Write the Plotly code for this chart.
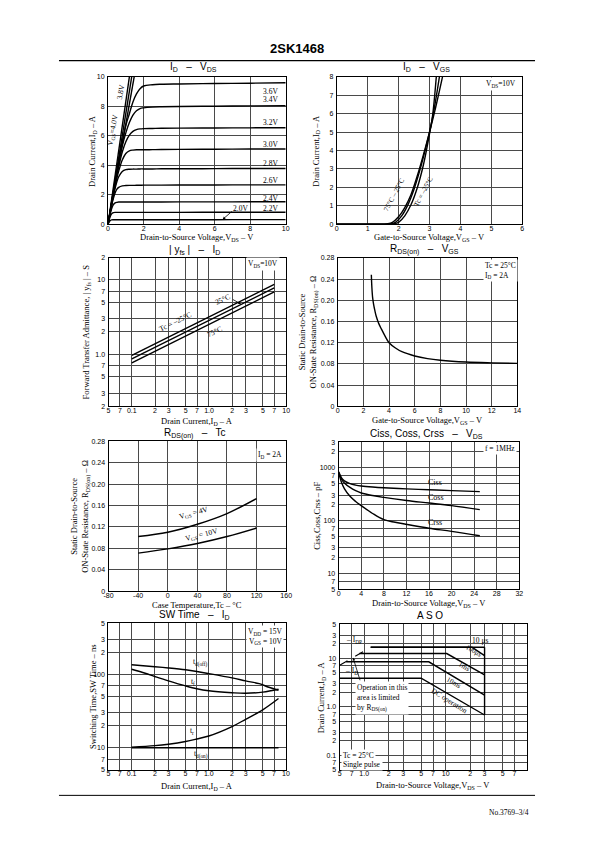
import numpy as np
import plotly.graph_objects as go

W, H = 595, 842

# ---------------- data ----------------
# Panel 1 : I_D - V_DS
p1_vds = [0, 0.1, 0.2, 0.3, 0.4, 0.5, 0.6, 0.8, 1.0, 1.2, 1.4, 1.6, 1.8, 2.0, 2.5, 3, 4, 6, 8, 10]
p1_id_36 = [0, 0.74, 1.48, 2.2, 2.92, 3.62, 4.3, 5.6, 6.7, 7.5, 8.3, 8.85, 9.2, 9.38, 9.47, 9.5, 9.52, 9.55, 9.57, 9.6]
p1_id_34 = [0, 0.73, 1.45, 2.15, 2.85, 3.5, 4.15, 5.3, 6.2, 6.9, 7.4, 7.7, 7.85, 7.9, 7.95, 7.97, 7.99, 8.01, 8.03, 8.05]
p1_id_32 = [0, 0.72, 1.42, 2.1, 2.75, 3.35, 3.9, 4.9, 5.6, 6.05, 6.3, 6.42, 6.47, 6.49, 6.5, 6.51, 6.52, 6.53, 6.54, 6.55]
p1_id_30 = [0, 0.7, 1.38, 2.02, 2.6, 3.15, 3.6, 4.35, 4.8, 4.98, 5.03, 5.05, 5.05, 5.05, 5.06, 5.07, 5.08, 5.09, 5.1, 5.1]
p1_id_28 = [0, 0.68, 1.33, 1.92, 2.45, 2.9, 3.22, 3.58, 3.7, 3.73, 3.74, 3.74, 3.75, 3.75, 3.75, 3.76, 3.76, 3.77, 3.78, 3.78]
p1_id_26 = [0, 0.65, 1.25, 1.75, 2.13, 2.38, 2.5, 2.6, 2.62, 2.63, 2.63, 2.64, 2.64, 2.65, 2.65, 2.65, 2.66, 2.66, 2.67, 2.67]
p1_id_24 = [0, 0.58, 1.05, 1.32, 1.44, 1.48, 1.5, 1.5, 1.5, 1.5, 1.5, 1.5, 1.5, 1.5, 1.5, 1.5, 1.51, 1.51, 1.52, 1.52]
p1_id_22 = [0, 0.45, 0.7, 0.78, 0.8, 0.8, 0.8, 0.8, 0.8, 0.8, 0.8, 0.8, 0.8, 0.8, 0.8, 0.8, 0.8, 0.81, 0.81, 0.81]
p1_id_20 = [0, 0.22, 0.29, 0.3, 0.3, 0.3, 0.3, 0.3, 0.3, 0.3, 0.3, 0.3, 0.3, 0.3, 0.3, 0.3, 0.3, 0.3, 0.31, 0.31]
p1_steep_vds_end = [1.2, 1.33, 1.47]
p1_steep_id = [0, 10]
p1_curve_labels = ['3.6V', '3.4V', '3.2V', '3.0V', '2.8V', '2.6V', '2.4V', '2.2V']
p1_label_id = [9.0, 8.45, 6.9, 5.4, 4.1, 2.95, 1.75, 1.05]

# Panel 2 : I_D - V_GS
p2_vgs_75 = [0, 1.5, 1.65, 1.8, 2.0, 2.2, 2.4, 2.6, 2.8, 3.0, 3.2, 3.42]
p2_id_75 = [0, 0.0, 0.02, 0.1, 0.4, 0.9, 1.6, 2.6, 3.75, 5.0, 6.35, 8.0]
p2_vgs_25 = [0, 1.6, 1.75, 1.9, 2.1, 2.3, 2.5, 2.7, 2.9, 3.0, 3.15, 3.32]
p2_id_25 = [0, 0.0, 0.02, 0.1, 0.45, 1.05, 1.9, 3.0, 4.3, 5.0, 6.25, 8.0]
p2_vgs_m25 = [0, 1.7, 1.85, 2.0, 2.2, 2.4, 2.6, 2.8, 3.0, 3.1, 3.22]
p2_id_m25 = [0, 0.0, 0.02, 0.1, 0.45, 1.05, 1.95, 3.2, 4.9, 5.9, 8.0]

# Panel 3 : |yfs| - I_D
p3_id = [0.1, 7.0]
p3_yfs_m25 = [0.97, 8.7]
p3_yfs_25 = [0.87, 7.8]
p3_yfs_75 = [0.77, 6.9]

# Panel 4 : R_DS(on) - V_GS
p4_vgs = [2.62, 2.66, 2.72, 2.8, 2.9, 3.0, 3.2, 3.4, 3.7, 4.0, 4.5, 5, 6, 7, 8, 10, 12, 14]
p4_r = [0.248, 0.225, 0.205, 0.192, 0.18, 0.17, 0.156, 0.146, 0.132, 0.12, 0.11, 0.103,
        0.095, 0.09, 0.087, 0.0836, 0.082, 0.081]

# Panel 5 : R_DS(on) - Tc
p5_tc = [-40, 0, 40, 80, 120]
p5_r_4v = [0.102, 0.110, 0.125, 0.145, 0.173]
p5_r_10v = [0.071, 0.079, 0.089, 0.102, 0.118]

# Panel 6 : Ciss, Coss, Crss - V_DS
p6_vds = [0, 0.5, 1, 2, 3, 4, 6, 8, 12, 16, 20, 25]
p6_ciss = [830, 640, 560, 495, 465, 448, 428, 414, 395, 380, 366, 350]
p6_coss = [810, 600, 510, 420, 365, 330, 295, 272, 238, 213, 190, 160]
p6_vds_crss = [0, 0.5, 1, 2, 3, 4, 6, 8, 10, 12, 16, 20, 25]
p6_crss = [790, 520, 400, 285, 228, 190, 135, 103, 92, 84, 71, 62, 51]

# Panel 7 : SW time - I_D
p7_id_off = [0.1, 0.2, 0.3, 0.5, 0.7, 1.0, 2.0, 3.0, 4.5, 6.0, 8.0]
p7_tdoff = [136, 128, 123, 116, 110, 103, 90, 82, 75, 67, 61]
p7_id_tf = [0.1, 0.15, 0.2, 0.3, 0.5, 0.7, 1.0, 2.0, 3.0, 5.0, 8.0]
p7_tf = [118, 104, 94, 82, 70, 64, 60, 56.5, 55.5, 57.5, 63]
p7_id_tr = [0.1, 0.2, 0.3, 0.5, 0.7, 1.0, 2.0, 3.0, 5.0, 8.0]
p7_tr = [10.2, 10.7, 11.2, 12.2, 13.2, 14.5, 19.5, 24.5, 33, 47]
p7_id_on = [0.1, 8.0]
p7_tdon = [10, 10]

# Panel 8 : ASO
p8_vds_10us = [1.2, 30]
p8_id_10us = [17, 17]
p8_vds_100us = [1.2, 21, 30]
p8_id_100us = [17, 17, 11.4]
p8_vds_1ms = [0.87, 10.3, 30]
p8_id_1ms = [12.6, 12.6, 4.55]
p8_vds_10ms = [0.6, 6.2, 30]
p8_id_10ms = [8.5, 8.5, 1.75]
p8_vds_dc = [0.5, 5, 30]
p8_id_dc = [3.9, 3.9, 0.68]
p8_vds_vdss = [30, 30]
p8_id_vdss = [17, 0.68]
p8_vds_rds = [0.5, 1.2]
p8_id_rds = [7.2, 17]

# tick values / labels
lin_x1 = [0, 2, 4, 6, 8, 10]
lin_y1 = [0, 2, 4, 6, 8, 10]
lin_x2 = [0, 1, 2, 3, 4, 5, 6]
lin_y2 = [0, 1, 2, 3, 4, 5, 6, 7, 8]
log_x_a = [0.05, 0.07, 0.1, 0.2, 0.3, 0.5, 0.7, 1, 2, 3, 5, 7, 10]
log_x_a_txt = ['5', '7', '0.1', '2', '3', '5', '7', '1.0', '2', '3', '5', '7', '10']
p3_yv = [0.2, 0.3, 0.5, 0.7, 1, 2, 3, 5, 7, 10, 20]
p3_yt = ['2', '3', '5', '7', '1.0', '2', '3', '5', '7', '10', '2']
p4_xv = [0, 2, 4, 6, 8, 10, 12, 14]
r_yv = [0, 0.04, 0.08, 0.12, 0.16, 0.20, 0.24, 0.28]
r_yt = ['0', '0.04', '0.08', '0.12', '0.16', '0.20', '0.24', '0.28']
p5_xv = [-80, -40, 0, 40, 80, 120, 160]
p6_xv = [0, 4, 8, 12, 16, 20, 24, 28, 32]
p6_yv = [5, 7, 10, 20, 30, 50, 70, 100, 200, 300, 500, 700, 1000, 2000, 3000]
p6_yt = ['5', '7', '10', '2', '3', '5', '7', '100', '2', '3', '5', '7', '1000', '2', '3']
p7_yv = [5, 7, 10, 20, 30, 50, 70, 100, 200, 300, 500]
p7_yt = ['5', '7', '10', '2', '3', '5', '7', '100', '2', '3', '5']
p8_xv = [0.5, 0.7, 1, 2, 3, 5, 7, 10, 20, 30, 50, 70, 100]
p8_xt = ['5', '7', '1.0', '2', '3', '5', '7', '10', '2', '3', '5', '7', '']
p8_yv = [0.05, 0.07, 0.1, 0.2, 0.3, 0.5, 0.7, 1, 2, 3, 5, 7, 10, 20, 30, 50]
p8_yt = ['5', '7', '0.1', '2', '3', '5', '7', '1.0', '2', '3', '5', '7', '10', '2', '3', '5']

# ---------------- style ----------------
SERIF = 'Liberation Serif'
SANS = 'Liberation Sans'
GRID = '#4a4a4a'
TICKFONT = dict(family=SANS, size=7, color='black')

fig = go.Figure()
axis_types = {}


def sfx(i):
    return '' if i == 1 else str(i)


def setup(i, box, xtype, ytype, xr, yr, xtv, xtt, ytv, ytt):
    x0, x1, y0, y1 = box
    axis_types[i] = (xtype, ytype)
    s = sfx(i)
    common = dict(showgrid=True, gridcolor=GRID, gridwidth=0.6, showline=True,
                  linecolor='black', linewidth=1.1, mirror=True, zeroline=False,
                  ticks='', ticklen=0, tickfont=TICKFONT, fixedrange=True, tickmode='array')
    if xtype == 'log':
        xr = [np.log10(xr[0]), np.log10(xr[1])]
    if ytype == 'log':
        yr = [np.log10(yr[0]), np.log10(yr[1])]
    fig.update_layout(**{
        'xaxis' + s: dict(domain=[x0 / W, x1 / W], anchor='y' + s, type=xtype, range=xr,
                          tickvals=xtv, ticktext=xtt, ticklabelstandoff=-3, **common),
        'yaxis' + s: dict(domain=[1 - y1 / H, 1 - y0 / H], anchor='x' + s, type=ytype, range=yr,
                          tickvals=ytv, ticktext=ytt, ticklabelstandoff=1, **common),
    })


def line(i, x, y, width=1.4, dash=None, shape='linear'):
    s = sfx(i)
    fig.add_trace(go.Scatter(x=x, y=y, mode='lines',
                             line=dict(color='black', width=width, dash=dash, shape=shape),
                             xaxis='x' + s, yaxis='y' + s, showlegend=False, hoverinfo='skip'))


def text(i, x, y, t, size=8, angle=0, xanchor='center', yanchor='middle', bg=None,
         family=SERIF, align='center', **kw):
    xt, yt = axis_types[i]
    s = sfx(i)
    if xt == 'log':
        x = float(np.log10(x))
        if 'ax' in kw:
            kw['ax'] = float(np.log10(kw['ax']))
    if yt == 'log':
        y = float(np.log10(y))
        if 'ay' in kw:
            kw['ay'] = float(np.log10(kw['ay']))
    d = dict(x=x, y=y, xref='x' + s, yref='y' + s, text=t, showarrow=False, textangle=angle,
             xanchor=xanchor, yanchor=yanchor, align=align,
             font=dict(family=family, size=size, color='black'))
    if bg:
        d['bgcolor'] = bg
    if 'ax' in kw:
        d.update(showarrow=True, axref='x' + s, ayref='y' + s, arrowhead=2, arrowsize=0.7,
                 arrowwidth=0.8, arrowcolor='black')
    d.update(kw)
    fig.add_annotation(**d)


def ptext(xp, yp, t, size=8, angle=0, family=SERIF, xanchor='center', yanchor='middle'):
    fig.add_annotation(x=xp / W, y=1 - yp / H, xref='paper', yref='paper', text=t,
                       showarrow=False, textangle=angle, xanchor=xanchor, yanchor=yanchor,
                       font=dict(family=family, size=size, color='black'))


def hline(x0, x1, yp, w=1.0):
    fig.add_shape(type='line', xref='paper', yref='paper', x0=x0 / W, x1=x1 / W,
                  y0=1 - yp / H, y1=1 - yp / H, line=dict(color='black', width=w))


# panel boxes (px): x0, x1, y0(top), y1(bottom)
B1 = (105, 286, 73.5, 222)
B2 = (338, 527, 73.5, 222)
B3 = (105.5, 286.5, 255.7, 405.7)
B4 = (339, 522, 256, 405.7)
B5 = (105.5, 286.5, 441, 592)
B6 = (340, 524, 442, 590)
B7 = (105.3, 286.3, 624.5, 772.3)
B8 = (341, 532, 625.7, 772.4)

setup(1, B1, 'linear', 'linear', [0, 10], [0, 10], lin_x1, [str(v) for v in lin_x1], lin_y1, [str(v) for v in lin_y1])
setup(2, B2, 'linear', 'linear', [0, 6], [0, 8], lin_x2, [str(v) for v in lin_x2], lin_y2, [str(v) for v in lin_y2])
setup(3, B3, 'log', 'log', [0.05, 10], [0.2, 20], log_x_a, log_x_a_txt, p3_yv, p3_yt)
setup(4, B4, 'linear', 'linear', [0, 14], [0, 0.28], p4_xv, [str(v) for v in p4_xv], r_yv, r_yt)
setup(5, B5, 'linear', 'linear', [-80, 160], [0, 0.28], p5_xv, [str(v) for v in p5_xv], r_yv, r_yt)
setup(6, B6, 'linear', 'log', [0, 32], [5, 3000], p6_xv, [str(v) for v in p6_xv], p6_yv, p6_yt)
setup(7, B7, 'log', 'log', [0.05, 10], [5, 500], log_x_a, log_x_a_txt, p7_yv, p7_yt)
setup(8, B8, 'log', 'log', [0.5, 100], [0.05, 50], p8_xv, p8_xt, p8_yv, p8_yt)

# ---- panel 1
for ids in [p1_id_36, p1_id_34, p1_id_32, p1_id_30, p1_id_28, p1_id_26, p1_id_24, p1_id_22, p1_id_20]:
    line(1, p1_vds, ids, shape='spline')
for ve in p1_steep_vds_end:
    line(1, [0, ve], p1_steep_id)
for lab, yv in zip(p1_curve_labels, p1_label_id):
    text(1, 9.15, yv, lab, size=7.5)
text(1, 6.45, 0.32, '', ax=7.05, ay=0.95)
text(1, 7.45, 1.05, '2.0V', size=7.5)
text(1, 0.27, 6.4, 'V<sub>GS</sub>=4.0V', size=7.5, angle=-80)
text(1, 0.72, 9.0, '3.8V', size=7.5, angle=-80)

# ---- panel 2
line(2, p2_vgs_75, p2_id_75, shape='spline')
line(2, p2_vgs_25, p2_id_25, shape='spline')
line(2, p2_vgs_m25, p2_id_m25, shape='spline')
text(2, 5.3, 7.62, 'V<sub>DS</sub>=10V', size=7.5, bg='white')
text(2, 1.85, 1.6, '75°C – 25°C', size=7, angle=-62)
text(2, 2.82, 1.8, 'Tc = –25°C', size=7, angle=-62)

# ---- panel 3
line(3, p3_id, p3_yfs_m25)
line(3, p3_id, p3_yfs_25)
line(3, p3_id, p3_yfs_75)
text(3, 5.0, 16.5, 'V<sub>DS</sub>=10V', size=7.5, bg='white')
text(3, 0.37, 2.75, 'Tc = –25°C', size=7.5, angle=-26)
text(3, 1.5, 5.4, '25°C', size=7.5, angle=-26)
text(3, 2.6, 4.75, '', ax=1.95, ay=5.6)
text(3, 1.2, 2.0, '75°C', size=7.5, angle=-26)

# ---- panel 4
line(4, p4_vgs, p4_r, shape='spline')
text(4, 11.3, 0.277, 'Tc = 25°C<br>I<sub>D</sub> = 2A', size=7.5, xanchor='left', yanchor='top',
     align='left', bg='white')

# ---- panel 5
line(5, p5_tc, p5_r_4v, shape='spline')
line(5, p5_tc, p5_r_10v, shape='spline')
text(5, 157, 0.268, 'I<sub>D</sub> = 2A', size=7.5, xanchor='right', yanchor='top', bg='white')
text(5, 36, 0.1455, 'V<sub>GS</sub> = 4V', size=7.5, angle=-15)
text(5, 46, 0.1045, 'V<sub>GS</sub> = 10V', size=7.5, angle=-14)

# ---- panel 6
line(6, p6_vds, p6_ciss, shape='spline')
line(6, p6_vds, p6_coss, shape='spline')
line(6, p6_vds_crss, p6_crss, shape='spline')
text(6, 28.6, 2250, 'f = 1MHz', size=7.5, bg='white')
text(6, 17.0, 530, 'Ciss', size=8)
text(6, 17.3, 275, 'Coss', size=8)
text(6, 17.0, 90, 'Crss', size=8)

# ---- panel 7
line(7, p7_id_off, p7_tdoff, shape='spline')
line(7, p7_id_tf, p7_tf, shape='spline')
line(7, p7_id_tr, p7_tr, shape='spline')
line(7, p7_id_on, p7_tdon)
text(7, 9.3, 470, 'V<sub>DD</sub> = 15V<br>V<sub>GS</sub> = 10V', size=7.5, xanchor='right',
     yanchor='top', align='right', bg='white')
text(7, 0.78, 145, 't<sub>d(off)</sub>', size=7.5)
text(7, 0.63, 80, 't<sub>f</sub>', size=7.5)
text(7, 0.6, 17, 't<sub>r</sub>', size=7.5)
text(7, 0.8, 8.0, 't<sub>d(on)</sub>', size=7.5)

# ---- panel 8
line(8, p8_vds_10us, p8_id_10us)
line(8, p8_vds_100us, p8_id_100us)
line(8, p8_vds_1ms, p8_id_1ms)
line(8, p8_vds_10ms, p8_id_10ms)
line(8, p8_vds_dc, p8_id_dc)
line(8, p8_vds_vdss, p8_id_vdss)
line(8, p8_vds_rds, p8_id_rds, width=1.1, dash='dash')
text(8, 26, 23.5, '10 μs', size=7.5)
text(8, 22, 14.2, '100μs', size=7, angle=30)
text(8, 17, 6.6, '1ms', size=7, angle=30)
text(8, 12.6, 3.1, '10ms', size=7, angle=30)
text(8, 11.0, 1.35, 'DC operation', size=7.5, angle=32)
text(8, 0.56, 24, '– I<sub>DP</sub>', size=7.5, xanchor='left')
text(8, 0.55, 5.5, '– I<sub>D</sub>', size=7.5, xanchor='left')
text(8, 0.78, 1.55, 'Operation in this<br>area is limited<br>by R<sub>DS(on)</sub>', size=7.5,
     xanchor='left', align='left', bg='white')
text(8, 0.73, 10.3, '', ax=0.9, ay=3.3)
text(8, 0.52, 0.1, 'Tc = 25°C', size=7.5, xanchor='left', bg='white')
text(8, 0.52, 0.064, 'Single pulse', size=7.5, xanchor='left', bg='white')

# ---- panel titles
titles = [
    (B1, 64, 'I<sub>D</sub>   –   V<sub>DS</sub>'),
    (B2, 64, 'I<sub>D</sub>   –   V<sub>GS</sub>'),
    (B3, 248, '| y<sub>fs</sub> |   –   I<sub>D</sub>'),
    (B4, 248, 'R<sub>DS(on)</sub>   –   V<sub>GS</sub>'),
    (B5, 433, 'R<sub>DS(on)</sub>   –   Tc'),
    (B6, 434, 'Ciss, Coss, Crss   –   V<sub>DS</sub>'),
    (B7, 616, 'SW Time   –   I<sub>D</sub>'),
    (B8, 617, 'A S O'),
]
for b, yp, t in titles:
    ptext((b[0] + b[1]) / 2 - 3, yp, t, size=10, family=SANS)

# ---- x axis titles
xtitles = [
    (B1, 235, 'Drain-to-Source Voltage,V<sub>DS</sub> – V'),
    (B2, 235, 'Gate-to-Source Voltage,V<sub>GS</sub> – V'),
    (B3, 421, 'Drain Current,I<sub>D</sub> – A'),
    (B4, 420, 'Gate-to-Source Voltage,V<sub>GS</sub> – V'),
    (B5, 606, 'Case Temperature,Tc – °C'),
    (B6, 605, 'Drain-to-Source Voltage,V<sub>DS</sub> – V'),
    (B7, 789, 'Drain Current,I<sub>D</sub> – A'),
    (B8, 788, 'Drain-to-Source Voltage,V<sub>DS</sub> – V'),
]
for b, yp, t in xtitles:
    ptext((b[0] + b[1]) / 2, yp, t, size=8.5)

# ---- y axis titles
ytitles = [
    (B1, 89, 'Drain Current,I<sub>D</sub> – A'),
    (B2, 317, 'Drain Current,I<sub>D</sub> – A'),
    (B3, 84, 'Forward Transfer Admittance, | y<sub>fs</sub> | – S'),
    (B4, 309, 'Static Drain-to-Source<br>ON-State Resistance, R<sub>DS(on)</sub> – Ω'),
    (B5, 77, 'Static Drain-to-Source<br>ON-State Resistance, R<sub>DS(on)</sub> – Ω'),
    (B6, 318, 'Ciss,Coss,Crss – pF'),
    (B7, 89, 'Switching Time,SW Time – ns'),
    (B8, 322, 'Drain Current,I<sub>D</sub> – A'),
]
for b, xp, t in ytitles:
    ptext(xp, (b[2] + b[3]) / 2, t, size=8.5, angle=-90)

# ---- header / footer
ptext(297, 45, '<b>2SK1468</b>', size=13, family=SANS)
hline(55, 540, 57, 1.2)
hline(55, 540, 798, 1.0)
ptext(513, 815, 'No.3769–3/4', size=7.5)

fig.update_layout(width=W, height=H, margin=dict(l=0, r=0, t=0, b=0),
                  paper_bgcolor='white', plot_bgcolor='white', showlegend=False)

fig.write_html('out.html', config={'displayModeBar': False},
               post_script="document.body.style.margin='0';document.body.style.padding='0';"
                           "document.documentElement.style.overflow='hidden';"
                           "document.body.style.overflow='hidden';")
